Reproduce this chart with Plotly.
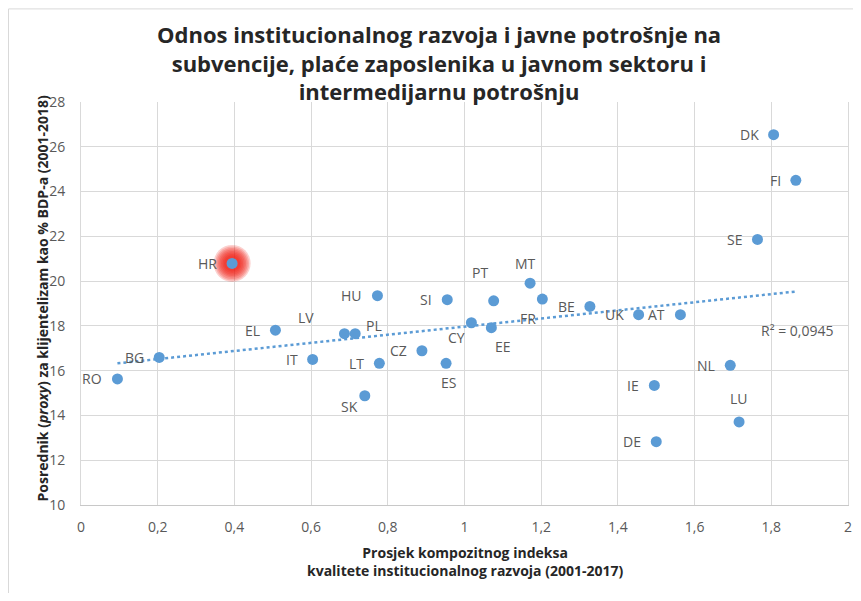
import numpy as np
import plotly.graph_objects as go

countries = ["RO", "BG", "HR", "EL", "IT", "LV", "PL", "SK", "HU", "LT", "CZ", "ES", "SI",
             "CY", "EE", "PT", "MT", "FR", "BE", "UK", "IE", "DE", "AT", "NL", "LU", "SE",
             "DK", "FI"]
inst_index = [0.095, 0.204, 0.394, 0.507, 0.604, 0.687, 0.715, 0.740, 0.773, 0.778, 0.889,
              0.952, 0.955, 1.018, 1.070, 1.076, 1.171, 1.203, 1.327, 1.454, 1.495, 1.500,
              1.563, 1.693, 1.716, 1.764, 1.806, 1.864]
clientelism = [15.63, 16.59, 20.79, 17.81, 16.50, 17.65, 17.65, 14.88, 19.35, 16.33, 16.89,
               16.33, 19.17, 18.14, 17.92, 19.12, 19.91, 19.20, 18.87, 18.50, 15.34, 12.83,
               18.50, 16.24, 13.71, 21.86, 26.54, 24.50]
x_ticks = [0, 0.2, 0.4, 0.6, 0.8, 1.0, 1.2, 1.4, 1.6, 1.8, 2.0]
y_ticks = [10, 12, 14, 16, 18, 20, 22, 24, 26, 28]
highlight = "HR"

# label placement offsets in pixels (style only); default: left of the point
label_offsets = {"MT": (-5, -20), "PT": (-14, -28), "FR": (-14, 19), "CY": (-15, 15),
                 "EE": (12, 19), "ES": (2, 19), "LU": (0, -23), "LV": (-38, -16),
                 "PL": (19, -8), "SK": (-15, 11)}

BLUE = "#5B9BD5"
GRAY = "#595959"
DARK = "#262626"
GRID = "#d9d9d9"
FONT = "Open Sans"

x = np.array(inst_index)
y = np.array(clientelism)
slope, intercept = np.polyfit(x, y, 1)
x_line = np.array([x.min(), x.max()])
y_line = slope * x_line + intercept

fig = go.Figure()

# soft red glow behind highlighted point
hi = countries.index(highlight)
for size in [37, 34, 31, 28, 25, 22, 19, 16]:
    fig.add_trace(go.Scatter(x=[inst_index[hi]], y=[clientelism[hi]], mode="markers",
                             marker=dict(size=size, color="rgba(238,25,15,0.2)", line=dict(width=0)),
                             hoverinfo="skip", showlegend=False))

fig.add_trace(go.Scatter(x=x_line, y=y_line, mode="lines",
                         line=dict(color=BLUE, width=2.5, dash="dot"),
                         hoverinfo="skip", showlegend=False))

fig.add_trace(go.Scatter(x=inst_index, y=clientelism, mode="markers",
                         marker=dict(size=11, color=BLUE, line=dict(width=0)),
                         text=countries, hoverinfo="text+x+y", showlegend=False))

for c, xv, yv in zip(countries, inst_index, clientelism):
    if c in label_offsets:
        dx, dy = label_offsets[c]
        fig.add_annotation(x=xv, y=yv, text=c, showarrow=False, xanchor="center", yanchor="middle",
                           xshift=dx, yshift=-dy, font=dict(family=FONT, size=14, color=GRAY))
    else:
        fig.add_annotation(x=xv, y=yv, text=c, showarrow=False, xanchor="right", yanchor="middle",
                           xshift=-13, font=dict(family=FONT, size=14, color=GRAY))

fig.add_annotation(x=1.867, y=17.8, text="R² = 0,0945", showarrow=False,
                   font=dict(family=FONT, size=14, color=GRAY))

fig.add_annotation(xref="paper", yref="paper", x=0.467, y=1.21, yanchor="top",
                   text="<b>Odnos institucionalnog razvoja i javne potrošnje na<br>"
                        "subvencije, plaće zaposlenika u javnom sektoru i<br>"
                        "intermedijarnu potrošnju</b>",
                   showarrow=False, align="center",
                   font=dict(family=FONT, size=22, color=DARK))

fig.add_annotation(xref="paper", yref="paper", x=0.5, y=-0.09, yanchor="top",
                   text="<b>Prosjek kompozitnog indeksa<br>kvalitete institucionalnog razvoja (2001-2017)</b>",
                   showarrow=False, align="center",
                   font=dict(family=FONT, size=14, color=DARK))

fig.add_annotation(xref="paper", yref="paper", x=-0.0505, y=0.513, xanchor="center",
                   text="<b>Posrednik (<i>proxy</i>) za klijentelizam kao % BDP-a (2001-2018)</b>",
                   textangle=-90, showarrow=False,
                   font=dict(family=FONT, size=14, color=DARK))

# outer chart border
fig.add_shape(type="rect", xref="paper", yref="paper", x0=-0.0945, y0=-0.4, x1=1.2, y1=1.231,
              line=dict(color=GRID, width=1), fillcolor="rgba(0,0,0,0)", layer="below")

fig.update_xaxes(range=[0, 2], tickvals=x_ticks, showgrid=True, gridcolor=GRID,
                 gridwidth=1, zeroline=False, showline=True, linecolor="#c8c8c8",
                 ticks="", tickfont=dict(family=FONT, size=14, color=GRAY), ticklabelstandoff=9,
                 ticklabeloverflow="allow")
fig.update_yaxes(range=[10, 28], tickvals=y_ticks, showgrid=True, gridcolor=GRID,
                 gridwidth=1, zeroline=False, showline=True, mirror=True, linecolor=GRID,
                 ticks="", tickfont=dict(family=FONT, size=14, color=GRAY), ticklabelstandoff=12)

fig.update_layout(width=845, height=585, separators=", ",
                  margin=dict(l=73, r=5, t=94, b=88, autoexpand=False),
                  plot_bgcolor="white", paper_bgcolor="white",
                  font=dict(family=FONT))

fig.write_html("out.html")
